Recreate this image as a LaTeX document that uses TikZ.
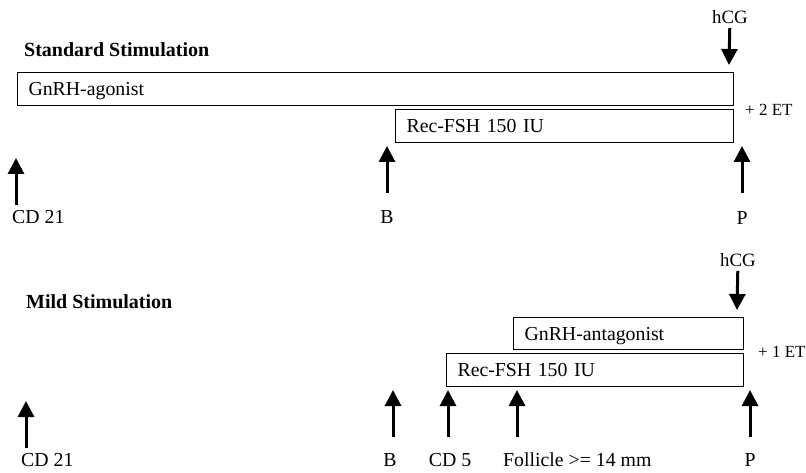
\documentclass[tikz,border=0pt]{standalone}
\usepackage{fontspec}
\setmainfont{Liberation Serif}
\usetikzlibrary{arrows.meta}
\tikzset{
  plain box/.style = {
    shape = rectangle,
    draw,
    line width = 1.1pt,
    anchor = north west,
    align = left,
    inner xsep = 11pt,
    inner ysep = 0pt,
    minimum height = 33pt,
    text depth = 0pt,
    text width = #1},
  title label/.style = {anchor = west, inner sep = 0pt, font = \fontsize{20pt}{24pt}\selectfont\bfseries},
  day label/.style = {inner sep = 0pt},
  et label/.style = {anchor = west, inner sep = 0pt, font = \fontsize{17pt}{20pt}\selectfont},
  hcg label/.style = {inner sep = 4pt, font = \fontsize{18.8pt}{22pt}\selectfont},
  day arrow/.style = {line width = 3pt, -{Triangle[width=16pt,length=16pt]}}
}

\begin{document}
\begin{tikzpicture}[x = 1pt, y = -1pt, font = \fontsize{19.8pt}{23pt}\selectfont]
  \useasboundingbox (0,0) rectangle (806,473);

  % standard stimulation
  \node[title label] (stdTitle) at (24,50) {Standard Stimulation};
  \node[plain box = 694pt] (agonist) at (17,72) {GnRH-agonist};
  \node[plain box = 316pt] (fshStd) at (395,109) {Rec-FSH 150 IU};
  \node[et label] (etStd) at (745,110) {+ 2 ET};
  \node[hcg label] (hcgStd) at (730,17) {hCG};
  \coordinate (hcgStdTip) at (729,65);
  \draw[day arrow] (hcgStd) -- (hcgStdTip);

  \node[day label, anchor = west] (cdStdLbl) at (12,217) {CD 21};
  \node[day label] (bStdLbl) at (387,217) {B};
  \node[day label] (pStdLbl) at (742,218) {P};
  \foreach \n/\x/\y in {cdStd/16/205, bStd/387/193, pStd/742/193}
    \draw[day arrow] (\x,\y) coordinate (\n Foot) -- (\x,\y-47) coordinate (\n Tip);

  % mild stimulation
  \node[title label] (mildTitle) at (26,302) {Mild Stimulation};
  \node[plain box = 208pt, minimum height = 32pt] (antagonist) at (513,317) {GnRH-antagonist};
  \node[plain box = 275pt] (fshMild) at (446,353) {Rec-FSH 150 IU};
  \node[et label] (etMild) at (758,352) {+ 1 ET};
  \node[hcg label] (hcgMild) at (738,260) {hCG};
  \coordinate (hcgMildTip) at (737,310);
  \draw[day arrow] (hcgMild) -- (hcgMildTip);

  \node[day label, anchor = west] (cdMildLbl) at (21,460) {CD 21};
  \node[day label] (bMildLbl) at (390,460) {B};
  \node[day label] (cdFiveLbl) at (450,460) {CD 5};
  \node[day label, anchor = west] (follicleLbl) at (503,460) {Follicle >= 14 mm};
  \node[day label] (pMildLbl) at (750,460) {P};
  \foreach \n/\x/\y in {cdMild/26/448, bMild/393/437, cdFive/448/437, follicle/517/437, pMild/750/437}
    \draw[day arrow] (\x,\y) coordinate (\n Foot) -- (\x,\y-47) coordinate (\n Tip);
\end{tikzpicture}
\end{document}
